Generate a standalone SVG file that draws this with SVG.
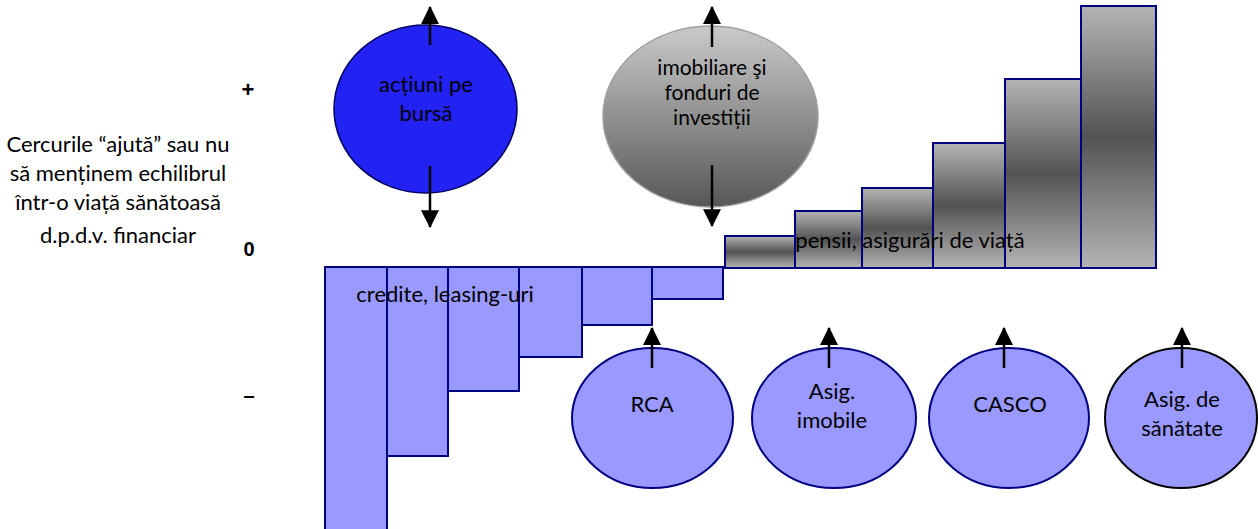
<svg xmlns="http://www.w3.org/2000/svg" width="1258" height="529" viewBox="0 0 1258 529">
<defs>
<style>
.t{font-family:Lato,"Liberation Sans",sans-serif;font-size:22px;fill:#000;text-anchor:middle}
.tg{font-size:21px}
.s{font-family:"Liberation Sans",Arial,sans-serif;font-size:20px;font-weight:bold;fill:#000;text-anchor:middle}
.neg{fill:#9999FF;stroke:#000080;stroke-width:2}
.pos{fill:url(#gBar);stroke:#000080;stroke-width:2}
.lc{fill:#9999FF;stroke:#000080;stroke-width:2}
.con{stroke:#000;stroke-width:2.5;fill:none;marker-end:url(#ah)}
</style>
<linearGradient id="gBar" x1="0" y1="0" x2="0" y2="1">
<stop offset="0" stop-color="#B4B4B4"/>
<stop offset="0.5" stop-color="#535353"/>
<stop offset="1" stop-color="#B4B4B4"/>
</linearGradient>
<linearGradient id="gEll" x1="0" y1="0" x2="0" y2="1">
<stop offset="0" stop-color="#CACACA"/>
<stop offset="1" stop-color="#575757"/>
</linearGradient>
<marker id="ah" markerUnits="userSpaceOnUse" markerWidth="18" markerHeight="18" viewBox="0 0 16 16" refX="15" refY="8" orient="auto">
<path d="M0,0 L16,8 L0,16 Z" fill="#000"/>
</marker>
</defs>

<g id="side-label">
<text class="t" x="118" y="152">Cercurile “ajută” sau nu</text>
<text class="t" x="118" y="181">să menținem echilibrul</text>
<text class="t" x="118" y="210">într-o viață sănătoasă</text>
<text class="t" x="118" y="243">d.p.d.v. financiar</text>
</g>
<g id="axis-labels">
<text class="s" x="248" y="97" style="font-size:22px">+</text>
<text class="s" x="249" y="256">0</text>
<text class="s" x="249" y="402">–</text>
</g>

<g id="neg-bars">
<rect class="neg" x="325" y="267" width="62" height="270"/>
<rect class="neg" x="387" y="267" width="61" height="189"/>
<rect class="neg" x="448" y="267" width="71" height="124"/>
<rect class="neg" x="519" y="267" width="63" height="90"/>
<rect class="neg" x="582" y="267" width="70" height="58"/>
<rect class="neg" x="652" y="267" width="71" height="32"/>
</g>

<g id="pos-bars">
<rect class="pos" x="725" y="236" width="70" height="32"/>
<rect class="pos" x="795" y="211" width="67" height="57"/>
<rect class="pos" x="862" y="188" width="71" height="80"/>
<rect class="pos" x="933" y="143" width="72" height="125"/>
<rect class="pos" x="1005" y="79" width="76" height="189"/>
<rect class="pos" x="1081" y="6" width="75" height="262"/>
</g>

<g id="node-actiuni">
<ellipse cx="425.5" cy="109" rx="91.5" ry="84" fill="#2222F2" stroke="#000060" stroke-width="1.5"/>
<text class="t" x="426" y="92">acțiuni pe</text>
<text class="t" x="426" y="121">bursă</text>
</g>

<g id="node-imobiliare">
<ellipse cx="710.5" cy="116.5" rx="107.5" ry="90.5" fill="url(#gEll)" stroke="#A0A0A0" stroke-width="1.5"/>
<text class="t tg" x="712" y="75">imobiliare şi</text>
<text class="t tg" x="712" y="100">fonduri de</text>
<text class="t tg" x="712" y="125">investiții</text>
</g>

<g id="node-rca">
<ellipse class="lc" cx="652.5" cy="418" rx="80.5" ry="70"/>
<text class="t" x="652" y="412">RCA</text>
</g>
<g id="node-imobile">
<ellipse class="lc" cx="834" cy="418" rx="82" ry="70"/>
<text class="t" x="832" y="399">Asig.</text>
<text class="t" x="832" y="428">imobile</text>
</g>
<g id="node-casco">
<ellipse class="lc" cx="1009" cy="418" rx="80" ry="70"/>
<text class="t" x="1010" y="412">CASCO</text>
</g>
<g id="node-sanatate">
<ellipse cx="1181" cy="418" rx="76" ry="70" fill="#9999FF" stroke="#000" stroke-width="2"/>
<text class="t" x="1182" y="407">Asig. de</text>
<text class="t" x="1182" y="436">sănătate</text>
</g>

<g id="bar-labels">
<text class="t" x="445" y="302">credite, leasing-uri</text>
<text class="t" x="910" y="248">pensii, asigurări de viață</text>
</g>

<g id="connectors">
<line class="con" x1="430" y1="45" x2="430" y2="7"/>
<line class="con" x1="430" y1="166" x2="430" y2="227"/>
<line class="con" x1="712" y1="47" x2="712" y2="7"/>
<line class="con" x1="712" y1="165" x2="712" y2="226"/>
<line class="con" x1="652" y1="368" x2="652" y2="328"/>
<line class="con" x1="829" y1="368" x2="829" y2="328"/>
<line class="con" x1="1004" y1="368" x2="1004" y2="328"/>
<line class="con" x1="1182" y1="368" x2="1182" y2="328"/>
</g>
</svg>
